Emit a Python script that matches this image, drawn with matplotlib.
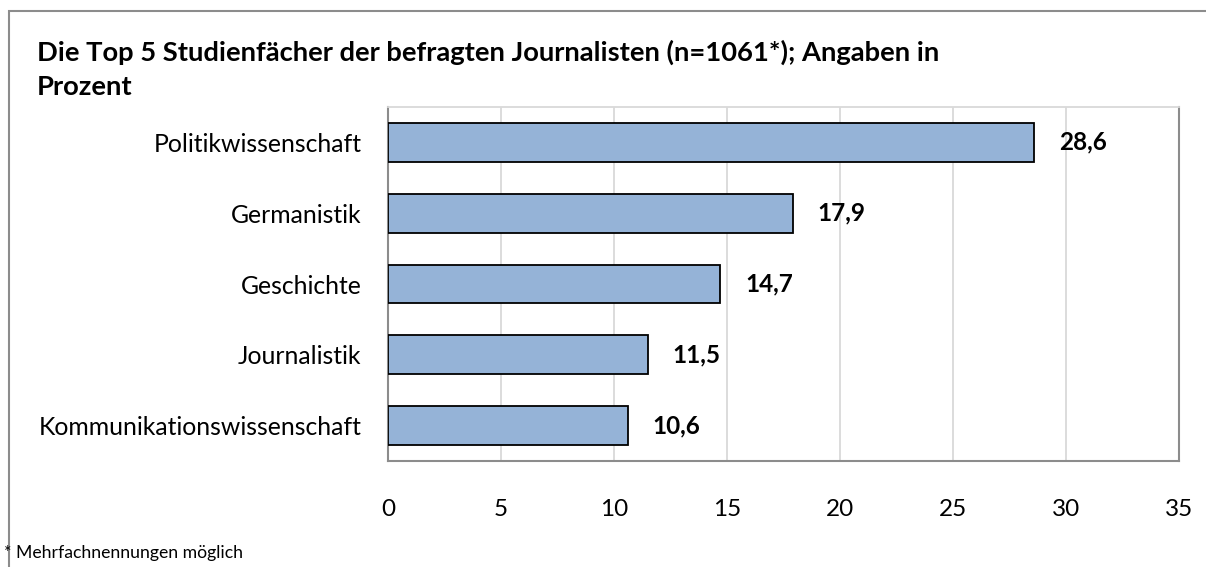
import matplotlib
matplotlib.use("Agg")
import matplotlib.pyplot as plt
from matplotlib.patches import Rectangle

categories = ["Politikwissenschaft", "Germanistik", "Geschichte", "Journalistik", "Kommunikationswissenschaft"]
values = [28.6, 17.9, 14.7, 11.5, 10.6]
labels = ["28,6", "17,9", "14,7", "11,5", "10,6"]
xticks = [0, 5, 10, 15, 20, 25, 30, 35]

plt.rcParams['font.family'] = ['Lato', 'DejaVu Sans']

W, H = 1206, 567
fig = plt.figure(figsize=(W/100, H/100), dpi=100)
ax = fig.add_axes([388/W, 1-461/H, (1179-388)/W, (461-107)/H])

y = list(range(len(categories)))
ax.barh(y, values, height=0.55, color="#95b3d7", edgecolor="black", linewidth=1.3, zorder=3)
for yi, v, lab in zip(y, values, labels):
    ax.text(v + 1.1, yi, lab, va="center", ha="left", fontsize=17.5, fontweight="bold")

ax.set_xlim(0, 35)
ax.set_ylim(len(categories) - 0.5, -0.5)
ax.set_yticks(y)
ax.set_yticklabels(categories, fontsize=17.8)
ax.set_xticks(xticks)
ax.set_xticklabels([str(t) for t in xticks], fontsize=17.5)
ax.tick_params(axis="both", length=0)
ax.tick_params(axis="x", pad=27)
ax.tick_params(axis="y", pad=19)
ax.grid(axis="x", color="#d9d9d9", linewidth=1.3, zorder=0)
for s in ["left", "bottom", "right"]:
    ax.spines[s].set_color("#8c8c8c")
    ax.spines[s].set_linewidth(1.5)
ax.spines["top"].set_color("#d9d9d9")
ax.spines["top"].set_linewidth(1.3)

fig.text(37/W, 1-52/H, "Die Top 5 Studienfächer der befragten Journalisten (n=1061*); Angaben in",
         fontsize=19.7, fontweight="bold", va="center", ha="left")
fig.text(37/W, 1-87/H, "Prozent", fontsize=19.7, fontweight="bold", va="center", ha="left")
fig.text(4/W, 1-553/H, "* Mehrfachnennungen möglich", fontsize=12.7, va="center", ha="left")

fig.add_artist(Rectangle((9/W, -0.1), 1.2, 1 - 11/H + 0.1, transform=fig.transFigure,
                         fill=False, edgecolor="#8c8c8c", linewidth=1.5))

fig.savefig("out.png", dpi=100)
